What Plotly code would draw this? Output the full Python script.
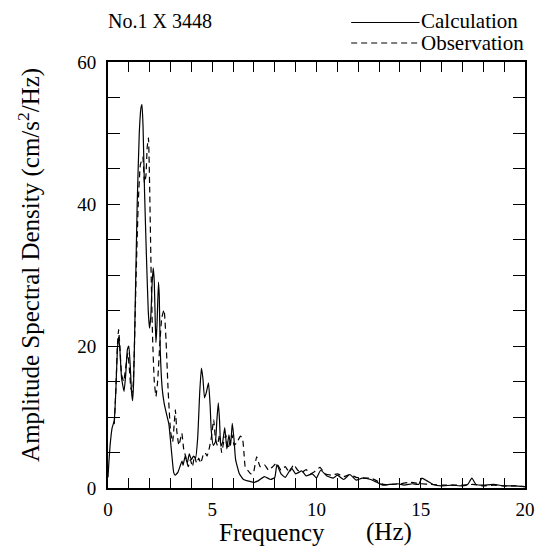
import plotly.graph_objects as go

# Calculation (solid)
calc_f = [0.0, 0.04, 0.1, 0.2, 0.3, 0.38, 0.45, 0.51, 0.57, 0.65, 0.77, 0.85, 0.93, 1.0, 1.07, 1.13, 1.18,
          1.23, 1.3, 1.4, 1.5, 1.58, 1.63, 1.68, 1.75, 1.85, 1.93, 1.99, 2.05, 2.12, 2.17, 2.22, 2.27, 2.3,
          2.35, 2.42, 2.46, 2.5, 2.6, 2.69, 2.8, 2.92, 3.05, 3.15, 3.22, 3.35, 3.45, 3.55, 3.6, 3.7, 3.8,
          3.9, 4.0, 4.1, 4.2, 4.3, 4.4, 4.48, 4.55, 4.63, 4.72, 4.82, 4.9, 4.95, 5.05, 5.15, 5.22, 5.29,
          5.35, 5.41, 5.5, 5.6, 5.7, 5.8, 5.88, 5.96, 6.04, 6.12, 6.3, 6.5, 6.7, 6.97, 7.2, 7.5, 7.8, 8.0,
          8.1, 8.3, 8.5, 8.8, 9.0, 9.3, 9.5, 9.8, 10.0, 10.2, 10.5, 10.8, 11.0, 11.3, 11.6, 11.9, 12.2,
          12.6, 12.9, 13.2, 13.5, 13.9, 14.2, 14.6, 14.9, 15.05, 15.3, 15.6, 16.0, 16.5, 17.0, 17.25,
          17.45, 17.65, 18.0, 18.5, 19.0, 19.5, 20.0]
calc_v = [1.5, 3.5, 6, 8.5, 9.5, 14, 19.5, 21.3, 19.5, 15.5, 13.6, 16, 19.5, 20, 17, 13.5, 12.3,
          15, 25, 40, 50, 53.5, 54, 51, 42, 32, 25, 22.5, 24, 29, 31, 29, 23, 20.5,
          23, 29, 27, 20, 14, 12, 10.5, 9, 5, 2.2, 1.8, 2.2, 3, 3.8, 3.2, 4.5, 3.5,
          4.8, 4, 4.5, 4.2, 7, 13.5, 16.9, 15.5, 12.7, 13.5, 14.8, 11.5, 8.2, 6, 6.5, 9.5, 12,
          9.5, 5.9, 6.5, 8.5, 5.5, 7.5, 6, 9.1, 7, 4, 2, 1.2, 1, 0.8, 1, 1.6, 1.2, 1.5,
          3.3, 2, 1.5, 2.8, 2, 2.4, 1.7, 2, 1.4, 2.5, 1.7, 1.4, 1.8, 1.2, 1.9, 1.1, 1.4,
          1.2, 0.8, 0.4, 0.5, 0.6, 0.4, 0.6, 0.5, 1.4, 1, 0.5, 0.3, 0.4, 0.3, 0.5,
          1.4, 0.5, 0.4, 0.5, 0.3, 0.3, 0.2]

# Observation (dashed)
obs_f = [0.3, 0.38, 0.45, 0.51, 0.57, 0.65, 0.75, 0.85, 0.95, 1.02, 1.1, 1.18, 1.25, 1.35, 1.45, 1.55,
         1.67, 1.75, 1.82, 1.88, 1.94, 2.0, 2.07, 2.14, 2.22, 2.3, 2.38, 2.48, 2.58, 2.69, 2.78, 2.88,
         3.0, 3.1, 3.23, 3.3, 3.4, 3.54, 3.63, 3.73, 3.85, 3.95, 4.05, 4.15, 4.25, 4.35, 4.45, 4.55,
         4.65, 4.75, 4.85, 4.95, 5.07, 5.15, 5.25, 5.35, 5.45, 5.55, 5.65, 5.75, 5.85, 5.95, 6.05, 6.2,
         6.35, 6.45, 6.52, 6.58, 6.7, 6.85, 6.97, 7.13, 7.3, 7.5, 7.7, 7.9, 8.08, 8.3, 8.5, 8.7, 8.9,
         9.1, 9.3, 9.5, 9.7, 9.9, 10.17, 10.4, 10.7, 11.0, 11.3, 11.6, 11.9, 12.3, 12.6, 12.9, 13.2,
         13.6, 14.0, 14.5, 15.0, 15.5, 16.0, 16.5, 17.0, 17.5, 18.0, 18.5, 19.0, 19.5, 20.0]
obs_v = [9, 14, 20, 22.3, 20, 16, 15, 17, 19, 17, 14, 13.5, 18, 30, 40, 45.5,
         46.6, 43, 44, 48, 49.3, 42, 30, 21, 15, 12.9, 15, 20, 24, 25.1, 21, 14,
         8, 6.5, 11, 8, 6, 7.7, 5.5, 4.4, 3, 4, 3, 4.5, 3.5, 4.2, 3.5, 4.5,
         5, 4.5, 5.5, 7, 9.6, 7, 6, 7.5, 5, 6.5, 7.5, 5.5, 6.5, 7.5, 6, 6.5,
         7.3, 7, 5, 3, 2.5, 2, 2.1, 4.4, 3, 3.3, 2.5, 3, 3.5, 2.5, 3, 2.2, 3.3,
         2.5, 2.2, 2.6, 2, 2.3, 2.9, 2, 1.8, 2, 1.6, 1.9, 1.5, 1.4, 1.4, 1, 0.5,
         0.5, 0.6, 0.8, 0.6, 0.5, 0.4, 0.4, 0.4, 0.5, 0.3, 0.4, 0.3, 0.3, 0.2]

x_tickvals = list(range(0, 21))
x_ticktext = [str(v) if v % 5 == 0 else "" for v in x_tickvals]
y_tickvals = list(range(0, 61, 5))
y_ticktext = [str(v) if v % 20 == 0 else "" for v in y_tickvals]

FONT = "Liberation Serif, Times New Roman, serif"

fig = go.Figure()
fig.add_trace(go.Scatter(x=calc_f, y=calc_v, mode="lines", name="Calculation",
                         line=dict(color="black", width=1.2, shape="spline", smoothing=0.4)))
fig.add_trace(go.Scatter(x=obs_f, y=obs_v, mode="lines", name="Observation",
                         line=dict(color="black", width=1.2, dash="6px,4px", shape="spline", smoothing=0.4)))

L, R, T, B = 108, 535, 62, 488
W, H = 545, 547
def px(x):
    return (x - L) / (R - L)
def py(y):
    return (B - y) / (B - T)

fig.update_layout(
    width=W, height=H,
    margin=dict(l=L, r=W - R, t=T, b=H - B),
    paper_bgcolor="white", plot_bgcolor="white",
    showlegend=False,
    font=dict(family=FONT, color="black"),
    xaxis=dict(range=[0, 20], tickvals=x_tickvals, ticktext=x_ticktext,
               ticks="inside", ticklen=10, tickwidth=1.3, tickcolor="black",
               showline=True, linewidth=2, linecolor="black", mirror="ticks",
               ticklabelstandoff=3,
               showgrid=False, zeroline=False, tickfont=dict(size=19, family=FONT, color="black")),
    yaxis=dict(range=[0, 60], tickvals=y_tickvals, ticktext=y_ticktext,
               ticks="inside", ticklen=12, tickwidth=1.3, tickcolor="black",
               showline=True, linewidth=2, linecolor="black", mirror="ticks",
               ticklabelstandoff=6,
               showgrid=False, zeroline=False, tickfont=dict(size=19, family=FONT, color="black")),
)

shapes = [
    dict(type="line", xref="paper", yref="paper", x0=px(357), x1=px(427), y0=py(22.5), y1=py(22.5),
         line=dict(color="black", width=1)),
    dict(type="line", xref="paper", yref="paper", x0=px(357), x1=px(427), y0=py(43), y1=py(43),
         line=dict(color="black", width=1, dash="6px,4px")),
]
fig.update_layout(shapes=shapes)

annots = [
    dict(text="No.1 X 3448", x=px(106), y=py(21), xanchor="left", yanchor="middle", font=dict(size=20)),
    dict(text="Calculation", x=px(426), y=py(21), xanchor="left", yanchor="middle", font=dict(size=21)),
    dict(text="Observation", x=px(426), y=py(43), xanchor="left", yanchor="middle", font=dict(size=21)),
    dict(text="Frequency", x=px(220), y=py(532), xanchor="left", yanchor="middle", font=dict(size=25)),
    dict(text="(Hz)", x=px(370), y=py(532), xanchor="left", yanchor="middle", font=dict(size=25)),
    dict(text="Amplitude Spectral Density (cm/s<sup>2</sup>/Hz)", x=px(27), y=py(265), textangle=-90,
         xanchor="center", yanchor="middle", font=dict(size=25)),
]
for a in annots:
    a.update(xref="paper", yref="paper", showarrow=False, font=dict(family=FONT, color="black", **a["font"]))
fig.update_layout(annotations=annots)

fig.write_html("out.html")
